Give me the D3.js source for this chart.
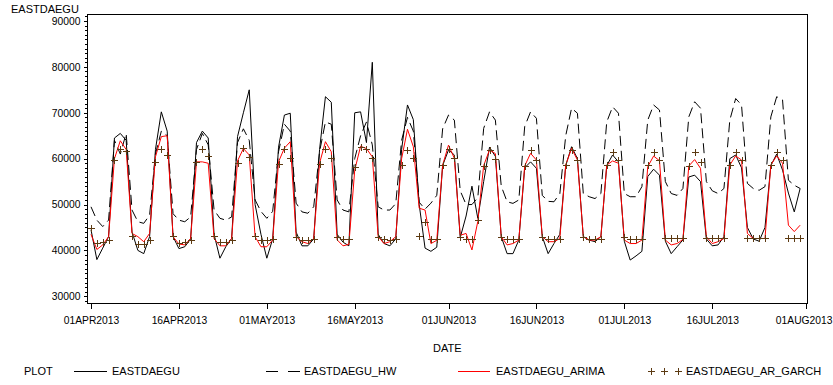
<!DOCTYPE html>
<html>
<head>
<meta charset="utf-8">
<script src="https://cdn.jsdelivr.net/npm/d3@7/dist/d3.min.js"></script>
<style>
  body { margin: 0; background: #fff; }
  svg text { font-family: "Liberation Sans", Arial, sans-serif; fill: #000; }
</style>
</head>
<body>
<div id="chart"></div>
<script>
// daily values, 01APR2013 .. 31JUL2013, one row per week (Mon..Sun)
const startDate = "2013-04-01";

const actual = [
  44500, 38000, 40500, 43000, 64500, 65500, 64000,
  44000, 40000, 39300, 43000, 62000, 70200, 66000,
  43000, 40400, 40800, 42500, 63500, 66000, 64500,
  43500, 38300, 40800, 42600, 64800, 70000, 75000,
  50000, 43500, 38300, 42500, 62500, 69500, 69900,
  44000, 41000, 41000, 42500, 62000, 73500, 72300,
  43500, 41800, 41000, 70000, 70200, 63500, 81000,
  43500, 41500, 41000, 42500, 62000, 71700, 68500,
  50000, 40500, 39800, 40700, 58500, 61900, 60800,
  42800, 47500, 54000, 47000, 55000, 62500, 60500,
  43000, 39300, 39300, 42250, 58000, 59300, 57900,
  43000, 39300, 41500, 43500, 58500, 62600, 60000,
  43000, 42250, 41900, 43000, 58500, 60800, 59300,
  42000, 37900, 38800, 39800, 56100, 57700, 56400,
  42000, 39300, 40800, 42300, 56000, 56400, 55000,
  42500, 41000, 41200, 43000, 60000, 60800, 58000,
  45000, 42500, 42000, 45000, 58500, 61000, 57500,
  52500, 48400, 53500
];

const hw = [
  49500, 46600, 45200, 46600, 64000, 61000, 65500,
  48800, 46250, 45900, 47700, 61000, 66000, 65000,
  48000, 46600, 46250, 47300, 62000, 65500, 63000,
  48800, 47000, 46600, 47300, 63500, 66500, 64000,
  51000, 48500, 47000, 48500, 61500, 67500, 66000,
  50300, 48400, 48100, 49500, 61500, 68000, 67500,
  51000, 48800, 48400, 60000, 65000, 68000, 63000,
  49500, 48800, 48800, 50200, 64000, 69000, 66000,
  50500, 49000, 50300, 52000, 66500, 69500, 68400,
  53000, 50000, 50000, 51500, 66600, 70200, 68400,
  54000, 50600, 50250, 51000, 67000, 70200, 68800,
  52000, 50700, 50600, 52400, 65000, 71000, 69900,
  52400, 51700, 51300, 52400, 68000, 71300, 69900,
  52400, 51700, 51700, 53900, 68400, 71700, 70600,
  55000, 52400, 52000, 53500, 69100, 72400, 71000,
  55000, 53000, 52400, 53500, 68400, 73100, 71700,
  54600, 53500, 53100, 53900, 69100, 73500, 72800,
  55300, 54200, 53500
];

const arima = [
  43500, 40200, 41200, 43000, 60000, 63900, 62000,
  43700, 43000, 41900, 43700, 60400, 64800, 65000,
  43000, 41400, 41200, 42600, 59300, 59300, 59000,
  42600, 41000, 41000, 42600, 59500, 62200, 60800,
  42980, 40800, 40800, 42250, 59300, 62300, 63700,
  43000, 41900, 41500, 42600, 59000, 63700, 61500,
  42300, 41000, 41300, 57500, 62700, 62200, 60400,
  43000, 41500, 41900, 43000, 60000, 66400, 62600,
  49200, 48800, 41500, 42200, 58600, 62950, 60060,
  43300, 43700, 40100, 46300, 58500, 61900, 61100,
  43000, 41200, 41500, 42250, 58400, 61150, 59700,
  43000, 41900, 41900, 42600, 58600, 62240, 59700,
  43000, 42250, 42250, 43000, 58600, 59500, 59000,
  42250, 41500, 41500, 42250, 58240, 60570, 59550,
  42250, 41200, 41500, 42400, 58400, 59800, 57900,
  43000, 41500, 41900, 42600, 58600, 60600, 59700,
  43700, 42600, 42600, 42600, 58600, 60600, 59000,
  45500, 44100, 45500
];

const garch = [
  44800, 41530, 41750, 42250, 59700, 62000, 61650,
  43200, 41400, 41400, 42250, 59200, 62000, 60800,
  43100, 41700, 41750, 42250, 59200, 62200, 60600,
  43100, 41750, 41750, 42250, 58970, 62240, 60420,
  43130, 42260, 42260, 42400, 58750, 62020, 60200,
  42980, 42260, 42260, 42400, 58750, 62020, 60060,
  42980, 42400, 42400, 58240, 62600, 62020, 60060,
  42980, 42400, 42260, 42400, 58600, 61880, 60060,
  43130, 46250, 42400, 42400, 58600, 62020, 60060,
  43000, 42400, 42400, 46540, 58390, 61880, 59840,
  43000, 42400, 42400, 42400, 58400, 61880, 59600,
  43000, 42400, 42400, 42400, 58600, 61880, 59600,
  43000, 42400, 42400, 42400, 58600, 61500, 59700,
  43000, 42400, 42400, 42400, 58600, 61500, 59700,
  42800, 42800, 42800, 42800, 58400, 61500, 59300,
  42800, 42800, 42800, 42800, 58600, 61500, 59600,
  42800, 42800, 42800, 42800, 58600, 61500, 59600,
  42800, 42800, 42800
];

const seriesNames = ["EASTDAEGU", "EASTDAEGU_HW", "EASTDAEGU_ARIMA", "EASTDAEGU_AR_GARCH"];
const xTickDates = ["2013-04-01", "2013-04-16", "2013-05-01", "2013-05-16", "2013-06-01",
                    "2013-06-16", "2013-07-01", "2013-07-16", "2013-08-01"];
const yTicks = [30000, 40000, 50000, 60000, 70000, 80000, 90000];

const width = 833, height = 385;
const frame = { left: 87.5, right: 807.5, top: 14.5, bottom: 303.5 };
const garchColor = "#5c3a12";
const fontFamily = '"Liberation Sans", Arial, sans-serif';

const svg = d3.select("#chart").append("svg")
  .attr("width", width)
  .attr("height", height);

const parse = d3.utcParse("%Y-%m-%d");
const t0 = parse(startDate);
const dates = actual.map((v, i) => d3.utcDay.offset(t0, i));

const x = d3.scaleUtc()
  .domain([parse(xTickDates[0]), parse(xTickDates[xTickDates.length - 1])])
  .range([91, 806]);

const y = d3.scaleLinear()
  .domain([30000, 90000])
  .range([296.3, 21]);

// frame
svg.append("rect")
  .attr("x", frame.left).attr("y", frame.top)
  .attr("width", frame.right - frame.left)
  .attr("height", frame.bottom - frame.top)
  .attr("fill", "none").attr("stroke", "#000").attr("stroke-width", 1);

// y axis: minor ticks every 1000, then the labelled majors
const yMinor = d3.range(29000, 91001, 1000);
svg.append("g")
  .attr("transform", `translate(${frame.left},0)`)
  .call(d3.axisLeft(y).tickValues(yMinor).tickSize(3).tickFormat(() => ""))
  .call(g => g.select(".domain").remove())
  .call(g => g.selectAll("line").attr("shape-rendering", "crispEdges"));

svg.append("g")
  .attr("transform", `translate(${frame.left},0)`)
  .call(d3.axisLeft(y).tickValues(yTicks).tickSize(4).tickPadding(3).tickFormat(d3.format("d")))
  .call(g => g.select(".domain").remove())
  .call(g => g.selectAll("line").attr("shape-rendering", "crispEdges"))
  .call(g => g.selectAll("text")
    .attr("font-size", "10.3px")
    .attr("font-family", fontFamily));

// x axis
const fmt = d3.utcFormat("%d%b%Y");
const xAxis = svg.append("g")
  .attr("transform", `translate(0,${frame.bottom})`)
  .call(d3.axisBottom(x).tickValues(xTickDates.map(parse)).tickSize(5).tickPadding(8)
    .tickFormat(d => fmt(d).toUpperCase()))
  .call(g => g.select(".domain").remove())
  .call(g => g.selectAll("line").attr("shape-rendering", "crispEdges"))
  .call(g => g.selectAll("text")
    .attr("font-size", "10.3px")
    .attr("font-family", fontFamily));

// last label sits flush with the right edge, like the original
xAxis.selectAll(".tick:last-of-type text")
  .attr("text-anchor", "end")
  .attr("dx", 26);

// titles
svg.append("text").attr("x", 11).attr("y", 13).attr("font-size", "11px").text("EASTDAEGU");
svg.append("text").attr("x", 433).attr("y", 352).attr("font-size", "11px").text("DATE");

// series
const line = d3.line()
  .x((d, i) => x(dates[i]))
  .y(d => y(d));

const plot = svg.append("g");

plot.append("path")
  .attr("d", line(actual))
  .attr("fill", "none").attr("stroke", "#000").attr("stroke-width", 1);

plot.append("path")
  .attr("d", line(hw))
  .attr("fill", "none").attr("stroke", "#000").attr("stroke-width", 1)
  .attr("stroke-dasharray", "10,5");

plot.append("path")
  .attr("d", line(arima))
  .attr("fill", "none").attr("stroke", "#ff0000").attr("stroke-width", 1);

const plus = "M-3.5,0H3.5M0,-3.5V3.5";
plot.selectAll(".garch")
  .data(garch)
  .enter()
  .append("path")
    .attr("class", "garch")
    .attr("transform", (d, i) => `translate(${Math.round(x(dates[i])) + 0.5},${Math.round(y(d)) + 0.5})`)
    .attr("d", plus)
    .attr("fill", "none").attr("stroke", garchColor).attr("stroke-width", 1);

// legend
const legY = 371.5;
const leg = svg.append("g").attr("shape-rendering", "crispEdges");
leg.append("text").attr("x", 24).attr("y", 375).attr("font-size", "11px").text("PLOT");

const sampleX = [74, 266, 458, 647];
const textX = [112, 304, 496, 686];

leg.append("line").attr("x1", sampleX[0]).attr("x2", sampleX[0] + 33)
  .attr("y1", legY).attr("y2", legY).attr("stroke", "#000").attr("stroke-width", 1);
leg.append("line").attr("x1", sampleX[1]).attr("x2", sampleX[1] + 34)
  .attr("y1", legY).attr("y2", legY).attr("stroke", "#000").attr("stroke-width", 1)
  .attr("stroke-dasharray", "12,10");
leg.append("line").attr("x1", sampleX[2]).attr("x2", sampleX[2] + 32)
  .attr("y1", legY).attr("y2", legY).attr("stroke", "#ff0000").attr("stroke-width", 1);
[4, 17, 31].forEach(dx => {
  leg.append("path")
    .attr("transform", `translate(${sampleX[3] + dx + 0.5},${legY})`)
    .attr("d", plus)
    .attr("fill", "none").attr("stroke", garchColor).attr("stroke-width", 1);
});

seriesNames.forEach((name, i) => {
  leg.append("text").attr("x", textX[i]).attr("y", 375).attr("font-size", "11px").text(name);
});
</script>
</body>
</html>
